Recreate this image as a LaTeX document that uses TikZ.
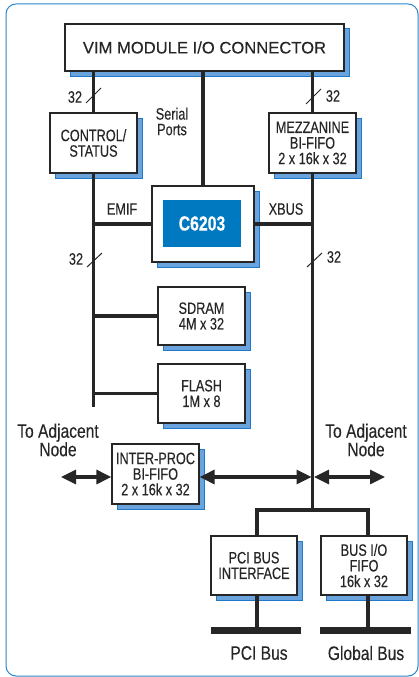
\documentclass[tikz,border=0pt]{standalone}
\usepackage{fontspec}
\setmainfont{Liberation Sans}[FakeStretch=0.77,FakeBold=0.25]
\newfontfamily\titlefont{Liberation Sans}[FakeBold=0.2]
\newfontfamily\lblfont{Liberation Sans}[FakeStretch=0.8,FakeBold=0.25]
\usetikzlibrary{arrows.meta,shadows}
\definecolor{frameblue}{HTML}{2A86CE}
\definecolor{chipblue}{HTML}{0079C1}
\definecolor{shfill}{HTML}{6BA3DC}
\definecolor{shedge}{HTML}{1F78C8}
\definecolor{ink}{HTML}{262626}
\tikzset{
  box/.style={draw=ink, line width=1.3pt, fill=white, inner sep=0pt, align=center,
    font=\fontsize{16.5}{15.6}\selectfont, text=ink,
    drop shadow={shadow xshift=5pt,shadow yshift=-5pt,fill=shfill,draw=shedge,line width=1pt,opacity=1}},
  bus/.style={line width=3.2pt, draw=ink, line join=miter},
  lbl/.style={font=\fontsize{16.5}{15.6}\selectfont, text=ink, inner sep=0pt, align=center},
  biglbl/.style={font=\lblfont\fontsize{19.5}{18.5}\selectfont, text=ink, inner sep=0pt, align=center},
  slash/.style={line width=1pt, draw=ink},
  arr/.style={line width=3.2pt, draw=ink, {Triangle[length=15pt,width=14pt]}-{Triangle[length=15pt,width=14pt]}},
  barbox/.style={fill=ink, draw=none, inner sep=0pt}
}
\begin{document}
\begin{tikzpicture}[x=1pt,y=-1pt]
\useasboundingbox (0,0) rectangle (419,677);
\draw[frameblue, line width=1pt, rounded corners=10pt] (6,4) rectangle (418,676);

% nodes
\node[box, minimum width=279pt, minimum height=47pt, font=\titlefont\fontsize{16.6}{18}\selectfont] (vim) at (204.5,47.5) {VIM MODULE I/O CONNECTOR};
\node[box, minimum width=87pt, minimum height=60pt] (ctrl) at (93.5,143) {CONTROL/\\STATUS};
\node[box, minimum width=87pt, minimum height=60pt] (mezz) at (312.5,143) {MEZZANINE\\BI-FIFO\\2 x 16k x 32};
\node[box, minimum width=102pt, minimum height=76pt] (cpu) at (203,224) {};
\node[fill=chipblue, inner sep=0pt, minimum width=78pt, minimum height=47pt, text=white, font=\fontsize{20.5}{20}\selectfont\bfseries] (chip) at (202,223.5) {C6203};
\node[box, minimum width=87pt, minimum height=58pt] (sdram) at (201.5,316) {SDRAM\\4M x 32};
\node[box, minimum width=87pt, minimum height=59pt] (flash) at (201.5,393.5) {FLASH\\1M x 8};
\node[box, minimum width=87pt, minimum height=60pt] (inter) at (155.5,474) {INTER-PROC\\BI-FIFO\\2 x 16k x 32};
\node[box, minimum width=86pt, minimum height=59pt] (pci) at (254,565.5) {PCI BUS\\INTERFACE};
\node[box, minimum width=86pt, minimum height=59pt] (busio) at (364,565.5) {BUS I/O\\FIFO\\16k x 32};
\node[barbox, minimum width=90pt, minimum height=7.5pt] (pcibar) at (256,630.5) {};
\node[barbox, minimum width=91pt, minimum height=7.5pt] (globbar) at (365.5,630.5) {};

% coordinates
\coordinate (lend) at (93.5,407);
\coordinate (rend) at (312.5,510);
\coordinate (bl) at (257,510);
\coordinate (br) at (368,510);
\coordinate (al) at (61,477);
\coordinate (ar) at (385,477);
\coordinate (amid) at (311.5,477);
\coordinate (amid2) at (314,477);

% buses
\draw[bus] (vim.south -| ctrl.north) -- (ctrl.north);
\draw[bus] (ctrl.south) -- (lend);
\draw[bus] (vim.south -| cpu.north) -- (cpu.north);
\draw[bus] (vim.south -| mezz.north) -- (mezz.north);
\draw[bus] (mezz.south) -- (rend);
\draw[bus] (cpu.west) -- (cpu.west -| lend);
\draw[bus] (cpu.east) -- (cpu.east -| rend);
\draw[bus] (sdram.west) -- (sdram.west -| lend);
\draw[bus] (flash.west) -- (flash.west -| lend);
\draw[bus] (bl |- pci.north) -- (bl) -- (br) -- (br |- busio.north);
\draw[bus] (bl |- pci.south) -- (bl |- pcibar.north);
\draw[bus] (br |- busio.south) -- (br |- globbar.north);

% arrows
\draw[arr] (al) -- (al -| inter.west);
\draw[arr] (al -| inter.east) -- (amid);
\draw[arr] (amid2) -- (ar);

% slashes
\draw[slash] (86,103) -- (101,88);
\draw[slash] (306,104) -- (321,89);
\draw[slash] (87,267) -- (102,253);
\draw[slash] (307,267) -- (322,253);

% labels
\node[lbl] (n32a) at (75,97) {32};
\node[lbl] (n32b) at (333,96) {32};
\node[lbl] (n32c) at (76,259) {32};
\node[lbl] (n32d) at (334,257) {32};
\node[lbl] (serial) at (172,121.5) {Serial\\Ports};
\node[lbl] (emif) at (122,209) {EMIF};
\node[lbl] (xbus) at (286,209) {XBUS};
\node[biglbl] (adjl) at (58,440) {To Adjacent\\Node};
\node[biglbl] (adjr) at (366,440) {To Adjacent\\Node};
\node[biglbl] (pcilbl) at (259,653) {PCI Bus};
\node[biglbl] (glbl) at (366,653) {Global Bus};
\end{tikzpicture}
\end{document}
